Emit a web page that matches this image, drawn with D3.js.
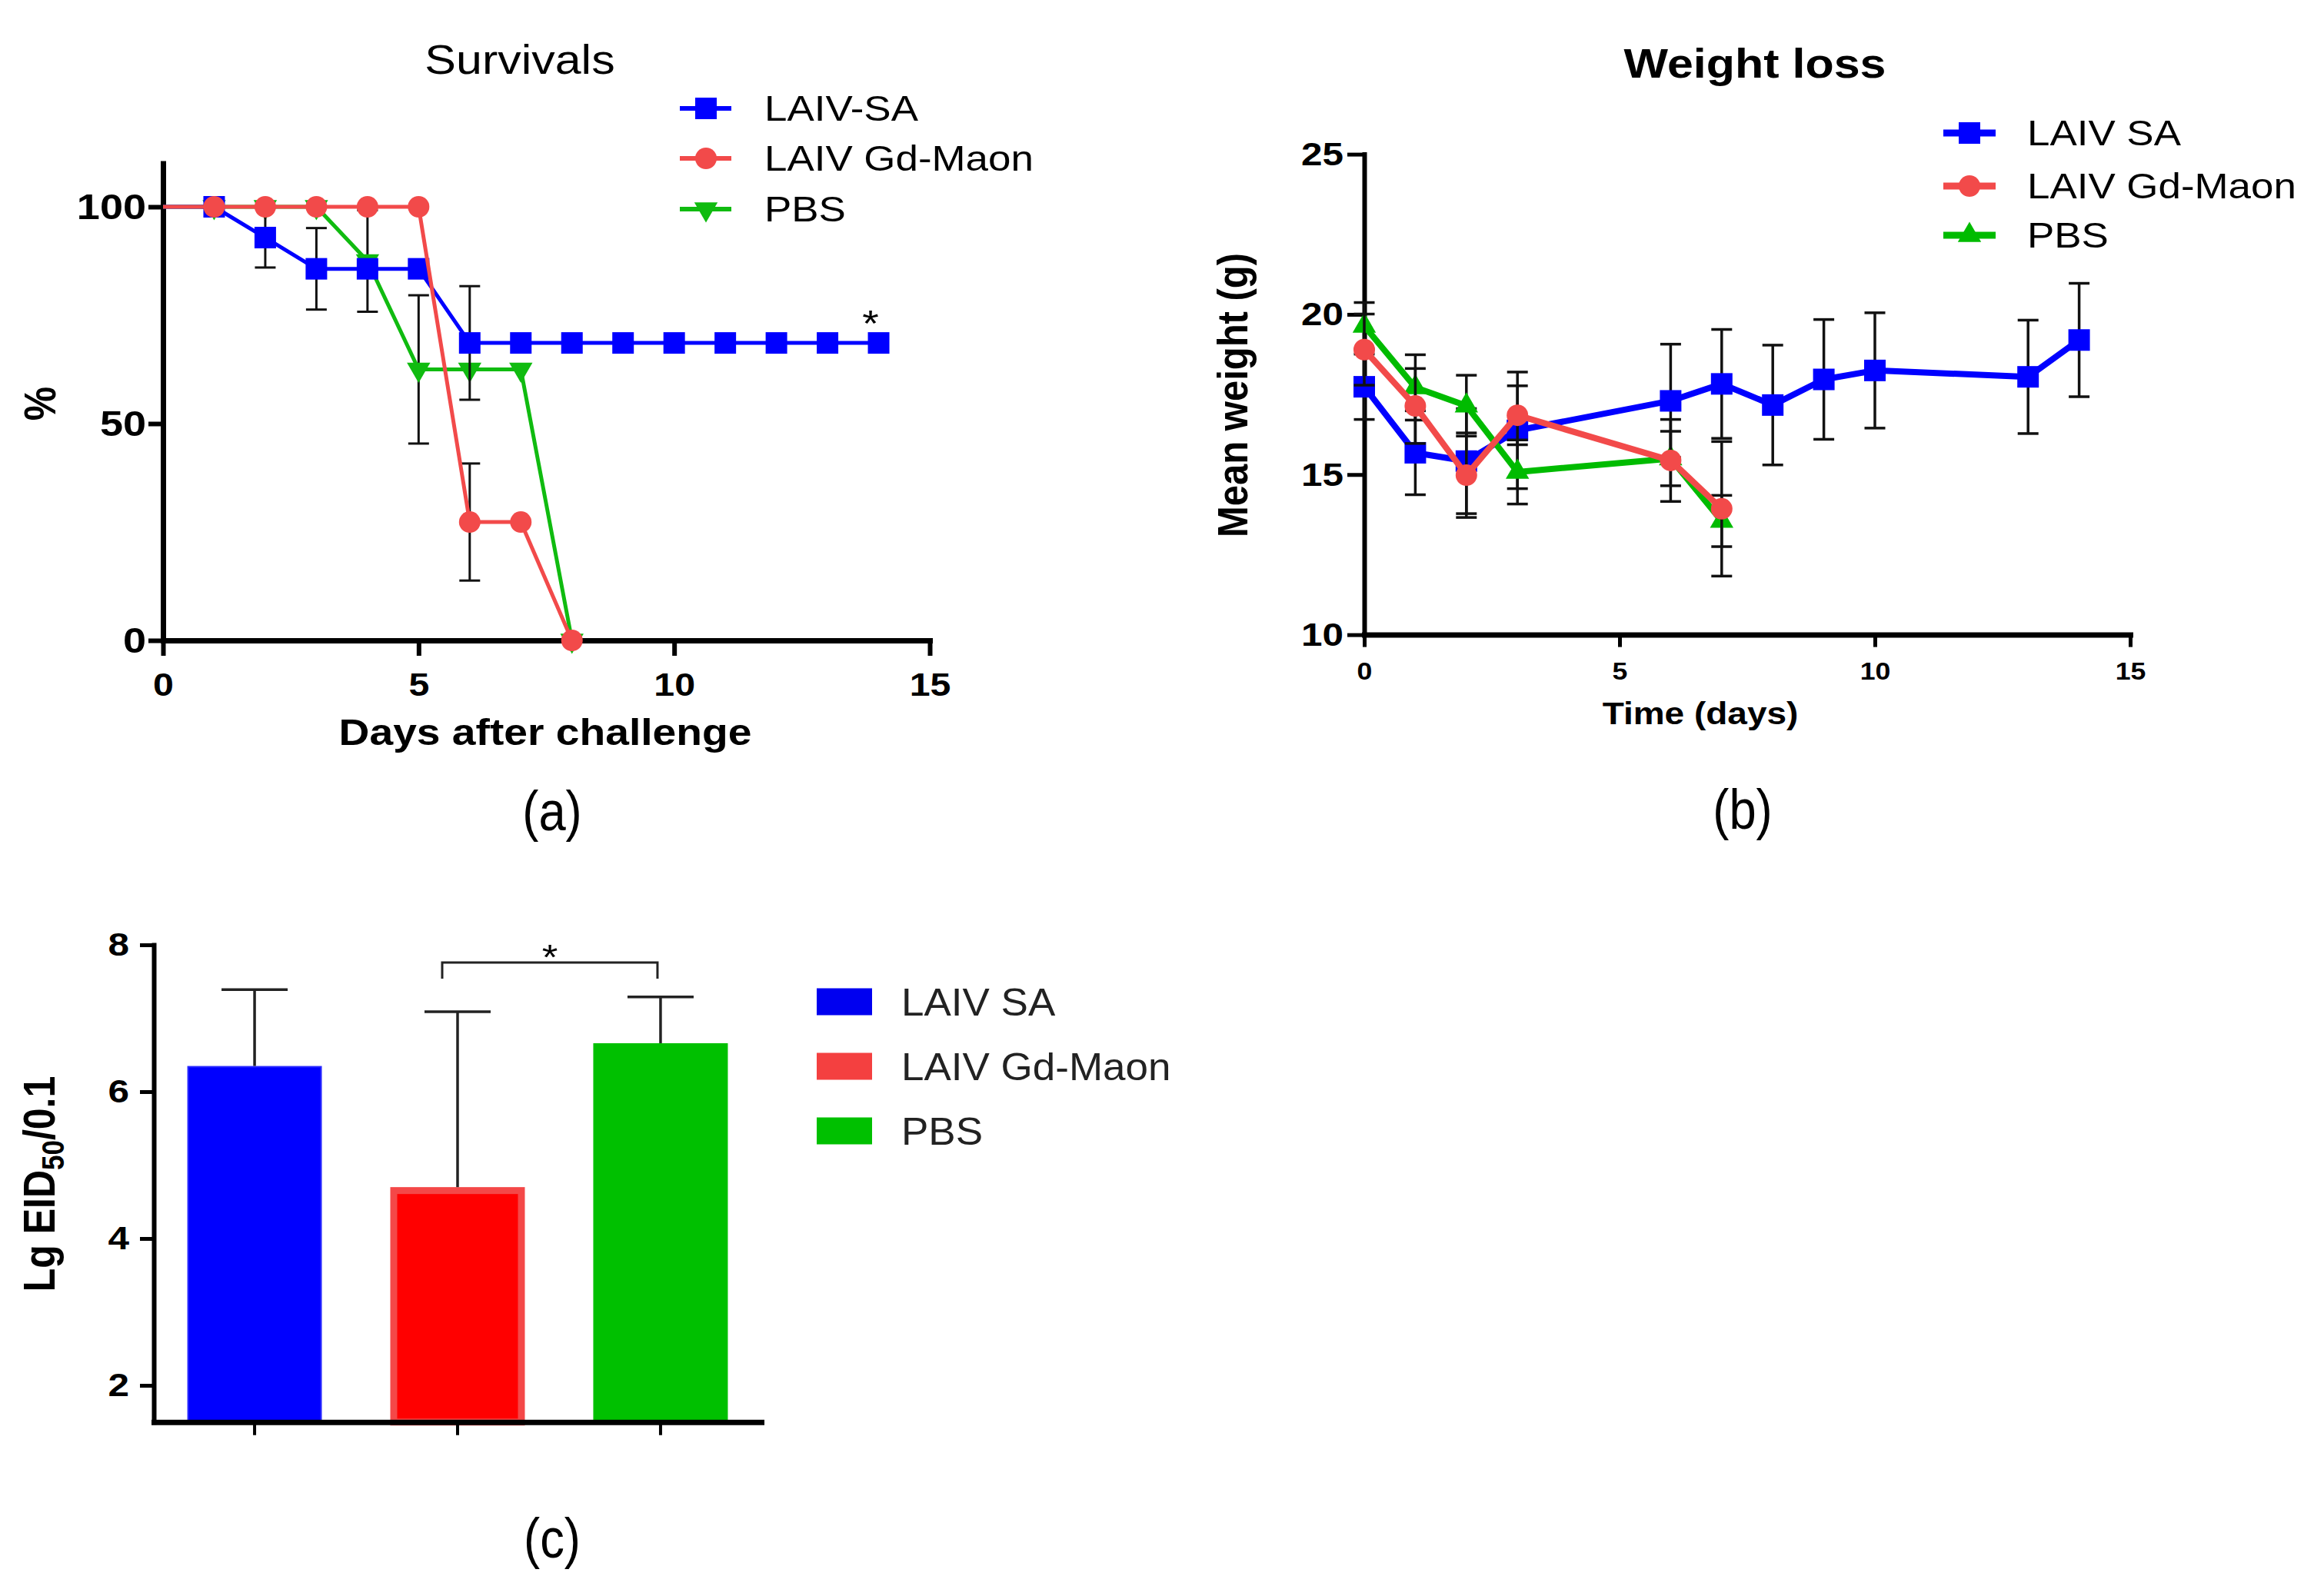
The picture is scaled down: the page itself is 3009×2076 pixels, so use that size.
<!DOCTYPE html>
<html lang="en">
<head>
<meta charset="UTF-8">
<title>Survivals, weight loss and lung titers</title>
<script src="https://d3js.org/d3.v7.min.js"></script>
<style>
  html, body { margin: 0; padding: 0; background: #fff; }
  svg { display: block; }
</style>
</head>
<body>
<svg id="fig" width="3009" height="2076"></svg>
<script>
// ---- data ----
// (a) survival, % alive per day after challenge
const survDaysSA = [0,1,2,3,4,5,6,7,8,9,10,11,12,13,14];
const survSA     = [100,100,92.9,85.7,85.7,85.7,68.6,68.6,68.6,68.6,68.6,68.6,68.6,68.6,68.6];
const survSAErr  = [0,0,6.9,9.4,0,0,13.1,0,0,0,0,0,0,0,0];
const survDaysGd = [0,1,2,3,4,5,6,7,8];
const survGd     = [100,100,100,100,100,100,27.3,27.3,0];
const survGdErr  = [0,0,0,0,0,0,13.5,0,0];
const survDaysPBS = [0,1,2,3,4,5,6,7,8];
const survPBS     = [100,100,100,100,87.5,62.5,62.5,62.5,0];
const survPBSErr  = [0,0,0,0,11.7,17.1,0,0,0];

// (b) mean weight (g) with error
const wtDaysSA = [0,1,2,3,6,7,8,9,10,13,14];
const wtSA     = [17.74,15.68,15.42,16.38,17.30,17.83,17.17,17.97,18.25,18.05,19.20];
const wtSAErr  = [1.02,1.31,1.64,1.82,1.77,1.70,1.87,1.87,1.80,1.77,1.77];
const wtDaysGd = [0,1,2,3,6,7];
const wtGd     = [18.90,17.14,14.98,16.85,15.44,13.93];
const wtGdErr  = [1.11,1.17,1.32,0.92,1.28,2.10];
const wtDaysPBS = [0,1,2,3,6,7];
const wtPBS     = [19.64,17.72,17.15,15.08,15.50,13.55];
const wtPBSErr  = [0.73,1.02,0.95,1.00,0.85,0.80];

// (c) lung virus titer
const titerGroups = ["LAIV SA", "LAIV Gd-Maon", "PBS"];
const titerMeans  = [6.35, 4.70, 6.66];
const titerErr    = [1.04, 2.39, 0.63];

const survLegend = ["LAIV-SA", "LAIV Gd-Maon", "PBS"];
const wtLegend   = ["LAIV SA", "LAIV Gd-Maon", "PBS"];
const survTicksX = [0,5,10,15], survTicksY = [0,50,100];
const wtTicksX = [0,5,10,15], wtTicksY = [10,15,20,25];
const titerTicksY = [2,4,6,8];

// ---- look ----
const FONT = "'Liberation Sans', Arial, Helvetica, sans-serif";
const SX = 1.15;   // the figure is stretched sideways a little
const BLUE = "#0000ff", RED = "#f24a4a", GREEN = "#10bb10";

const svg = d3.select("#fig").attr("font-family", FONT);
svg.append("rect").attr("width", 3009).attr("height", 2076).attr("fill", "#fff");

function label(g, x, y, str, o) {
  let tr = `translate(${x},${y}) scale(${o.sx ?? SX},1)`;
  if (o.rot) tr += ` rotate(${o.rot})`;
  return g.append("text")
    .attr("transform", tr)
    .attr("text-anchor", o.anchor || "middle")
    .attr("font-size", o.size)
    .attr("font-weight", o.weight || "normal")
    .attr("fill", o.fill || "#000")
    .text(str);
}

function styleAxis(ax, o) {
  ax.attr("font-family", FONT).attr("font-size", o.size).attr("font-weight", "bold").attr("color", "#000");
  ax.select(".domain").attr("stroke-width", o.dw).attr("stroke-linecap", "square");
  ax.selectAll(".tick line").attr("stroke-width", o.tw);
  ax.selectAll(".tick text").each(function() {
    const t = d3.select(this);
    const x = +t.attr("x") || 0, y = +t.attr("y") || 0;
    t.attr("x", 0).attr("y", 0).attr("transform", `translate(${x},${y}) scale(${SX},1)`);
  });
}

const symSquare = d3.symbol(d3.symbolSquare, 28 * 28);
const symCircle = d3.symbol(d3.symbolCircle, Math.PI * 14 * 14);
const symTri = d3.symbol(d3.symbolTriangle, 400);

function drawSeries(g, x, y, days, vals, errs, o) {
  const pts = days.map((d, i) => ({d, v: vals[i], e: errs[i], i}));
  const eb = g.append("g").attr("stroke", "#111").attr("stroke-width", o.ew);
  pts.filter(p => p.e > 0).forEach(p => {
    const cx = x(p.d);
    eb.append("line").attr("x1", cx).attr("x2", cx).attr("y1", y(p.v - p.e)).attr("y2", y(p.v + p.e));
    [p.v - p.e, p.v + p.e].forEach(v => {
      eb.append("line").attr("x1", cx - o.cap / 2).attr("x2", cx + o.cap / 2).attr("y1", y(v)).attr("y2", y(v));
    });
  });
  g.append("path")
    .attr("d", d3.line().x(p => x(p.d)).y(p => y(p.v))(pts))
    .attr("fill", "none").attr("stroke", o.color).attr("stroke-width", o.lw).attr("stroke-linejoin", "round");
  g.selectAll(null).data(pts.filter(p => p.d >= o.markFrom)).join("path")
    .attr("d", o.sym)
    .attr("transform", p => `translate(${x(p.d)},${y(p.v)})` + (o.flip ? " rotate(180)" : ""))
    .attr("fill", o.color);
}

// ================= (a) Survivals =================
const gA = svg.append("g");
const xA = d3.scaleLinear().domain([0, 15]).range([212, 1209]);
const yA = d3.scaleLinear().domain([0, 110]).range([833, 212.6]);

styleAxis(gA.append("g").attr("transform", "translate(0,833)")
  .call(d3.axisBottom(xA).tickValues(survTicksX).tickSize(20).tickPadding(22).tickSizeOuter(0)),
  {size: 42, dw: 7, tw: 6});
styleAxis(gA.append("g").attr("transform", "translate(212,0)")
  .call(d3.axisLeft(yA).tickValues(survTicksY).tickSize(19).tickPadding(3).tickSizeOuter(0)),
  {size: 47, dw: 7, tw: 6});

const optA = {lw: 5, ew: 3, cap: 27, markFrom: 1};
drawSeries(gA, xA, yA, survDaysPBS, survPBS, survPBSErr, {...optA, color: GREEN, sym: symTri, flip: true});
drawSeries(gA, xA, yA, survDaysSA, survSA, survSAErr, {...optA, color: BLUE, sym: symSquare});
drawSeries(gA, xA, yA, survDaysGd, survGd, survGdErr, {...optA, color: RED, sym: symCircle});

label(gA, 676, 96, "Survivals", {size: 53});
label(gA, 709, 969, "Days after challenge", {size: 48, weight: "bold"});
label(gA, 72, 525, "%", {size: 50, weight: "bold", rot: -90});
label(gA, 1132, 437, "*", {size: 48});
label(gA, 718, 1080, "(a)", {size: 72, sx: 0.88});

const legA = [{c: BLUE, s: symSquare}, {c: RED, s: symCircle}, {c: GREEN, s: symTri, f: true}];
[141, 206, 272].forEach((ry, i) => {
  gA.append("line").attr("x1", 884).attr("x2", 951).attr("y1", ry).attr("y2", ry)
    .attr("stroke", legA[i].c).attr("stroke-width", 6);
  gA.append("path").attr("d", legA[i].s)
    .attr("transform", `translate(918,${ry})` + (legA[i].f ? " rotate(180)" : "")).attr("fill", legA[i].c);
  label(gA, 994, ry + 16, survLegend[i], {size: 46, anchor: "start"});
});

// ================= (b) Weight loss =================
const gB = svg.append("g");
const xB = d3.scaleLinear().domain([0, 15]).range([1774, 2770]);
const yB = d3.scaleLinear().domain([10, 25]).range([825.6, 200.6]);

styleAxis(gB.append("g").attr("transform", "translate(0,825.6)")
  .call(d3.axisBottom(xB).tickValues(wtTicksX).tickSize(16).tickPadding(20).tickSizeOuter(0)),
  {size: 31, dw: 7, tw: 5});
styleAxis(gB.append("g").attr("transform", "translate(1774,0)")
  .call(d3.axisLeft(yB).tickValues(wtTicksY).tickSize(22).tickPadding(5).tickSizeOuter(0)),
  {size: 43, dw: 6, tw: 5});

const optB = {lw: 8, ew: 3.5, cap: 27, markFrom: 0};
drawSeries(gB, xB, yB, wtDaysSA, wtSA, wtSAErr, {...optB, color: BLUE, sym: symSquare});
drawSeries(gB, xB, yB, wtDaysPBS, wtPBS, wtPBSErr, {...optB, color: "#00bb00", sym: symTri});
drawSeries(gB, xB, yB, wtDaysGd, wtGd, wtGdErr, {...optB, color: RED, sym: symCircle});

label(gB, 2282, 101, "Weight loss", {size: 53, weight: "bold"});
label(gB, 2211, 942, "Time (days)", {size: 40, weight: "bold"});
label(gB, 1622, 514, "Mean weight (g)", {size: 49, weight: "bold", rot: -90});
label(gB, 2266, 1078, "(b)", {size: 72, sx: 0.88});

const legB = [{c: BLUE, s: symSquare}, {c: RED, s: symCircle}, {c: "#00bb00", s: symTri}];
[173, 242, 306].forEach((ry, i) => {
  gB.append("line").attr("x1", 2527).attr("x2", 2595).attr("y1", ry).attr("y2", ry)
    .attr("stroke", legB[i].c).attr("stroke-width", 9);
  gB.append("path").attr("d", legB[i].s).attr("transform", `translate(2561,${ry})`).attr("fill", legB[i].c);
  label(gB, 2636, ry + 16, wtLegend[i], {size: 46, anchor: "start"});
});

// ================= (c) Lung titers =================
const gC = svg.append("g");
const xC = d3.scaleBand().domain(titerGroups).range([200, 990]).paddingInner(0.337).paddingOuter(0.165);
const yC = d3.scaleLinear().domain([1.5, 8]).range([1849.75, 1229]);
const barFill = ["#0000ff", "#ff0000", "#00c000"];
const barEdge = ["#2a2aff", "#f44848", "#00c000"];
const swatch = ["#0000f0", "#f44040", "#00c000"];

titerGroups.forEach((grp, i) => {
  const sw = i === 1 ? 9 : 2;
  gC.append("rect")
    .attr("x", xC(grp) + sw / 2).attr("width", xC.bandwidth() - sw)
    .attr("y", yC(titerMeans[i]) + sw / 2).attr("height", yC(1.5) - yC(titerMeans[i]) - sw / 2)
    .attr("fill", barFill[i]).attr("stroke", barEdge[i]).attr("stroke-width", sw);
  const cx = xC(grp) + xC.bandwidth() / 2;
  const top = yC(titerMeans[i] + titerErr[i]);
  gC.append("line").attr("x1", cx).attr("x2", cx).attr("y1", yC(titerMeans[i])).attr("y2", top)
    .attr("stroke", "#222").attr("stroke-width", 3.5);
  gC.append("line").attr("x1", cx - 43).attr("x2", cx + 43).attr("y1", top).attr("y2", top)
    .attr("stroke", "#222").attr("stroke-width", 3.5);
});

styleAxis(gC.append("g").attr("transform", "translate(0,1849.75)")
  .call(d3.axisBottom(xC).tickSize(17).tickFormat("").tickSizeOuter(0)),
  {size: 40, dw: 7, tw: 4});
styleAxis(gC.append("g").attr("transform", "translate(200,0)")
  .call(d3.axisLeft(yC).tickValues(titerTicksY).tickFormat(d3.format("d"))
    .tickSize(18).tickPadding(14).tickSizeOuter(0)),
  {size: 43, dw: 6, tw: 5});

// significance bracket between Gd-Maon and PBS
const bL = xC("LAIV Gd-Maon") + xC.bandwidth() / 2 - 20;
const bR = xC("PBS") + xC.bandwidth() / 2 - 4;
const bY = yC(7.76);
gC.append("path").attr("d", `M${bL},${bY + 21}V${bY}H${bR}V${bY + 21}`)
  .attr("fill", "none").attr("stroke", "#222").attr("stroke-width", 3);
label(gC, (bL + bR) / 2, bY + 9, "*", {size: 46});

const yl = label(gC, 71, 1540, "Lg EID", {size: 50, weight: "bold", rot: -90});
yl.append("tspan").attr("font-size", 35).attr("dy", 10).text("50");
yl.append("tspan").attr("font-size", 50).attr("dy", -10).text("/0.1");

[1303, 1387, 1471].forEach((ry, i) => {
  gC.append("rect").attr("x", 1062).attr("y", ry - 17.5).attr("width", 72).attr("height", 35).attr("fill", swatch[i]);
  label(gC, 1172, ry + 18, titerGroups[i], {size: 50, anchor: "start", sx: 1.06, fill: "#222"});
});
label(gC, 718, 2026, "(c)", {size: 72, sx: 0.88});
</script>
</body>
</html>
